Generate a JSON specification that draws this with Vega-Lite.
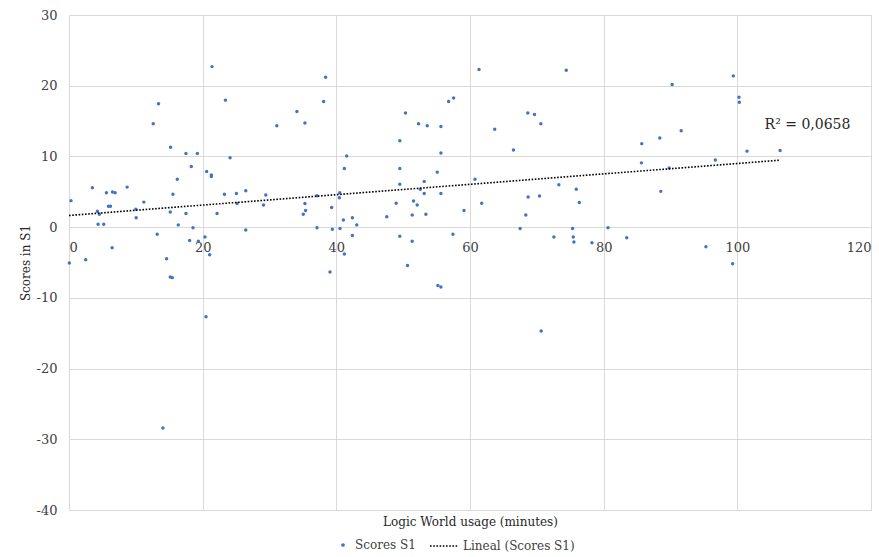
{
  "$schema": "https://vega.github.io/schema/vega-lite/v6.json",
  "width": 802,
  "height": 495,
  "autosize": {"type": "none"},
  "padding": {"left": 69, "top": 15, "right": 8, "bottom": 47},
  "background": "white",
  "config": {
    "font": "DejaVu Serif",
    "view": {"stroke": null},
    "axis": {
      "labelFont": "DejaVu Serif",
      "titleFont": "DejaVu Serif",
      "labelFontSize": 13,
      "titleFontSize": 12,
      "labelColor": "#404040",
      "titleColor": "#262626",
      "titleFontWeight": "normal",
      "gridColor": "#d9d9d9",
      "gridWidth": 1
    },
    "legend": {
      "labelFont": "DejaVu Serif",
      "labelFontSize": 12,
      "labelColor": "#404040"
    }
  },
  "datasets": {
    "scores": [
      {"usage": 21.4, "score": 22.7}, {"usage": 38.4, "score": 21.2}, {"usage": 23.4, "score": 17.96},
      {"usage": 13.4, "score": 17.45}, {"usage": 38.1, "score": 17.76}, {"usage": 34.1, "score": 16.35},
      {"usage": 35.3, "score": 14.73}, {"usage": 12.6, "score": 14.63}, {"usage": 31.1, "score": 14.33},
      {"usage": 15.2, "score": 11.3}, {"usage": 17.5, "score": 10.4}, {"usage": 19.2, "score": 10.4},
      {"usage": 24.1, "score": 9.8}, {"usage": 18.3, "score": 8.58}, {"usage": 20.6, "score": 7.88},
      {"usage": 21.3, "score": 7.38}, {"usage": 21.3, "score": 7.17}, {"usage": 16.2, "score": 6.77},
      {"usage": 3.5, "score": 5.56}, {"usage": 8.7, "score": 5.66}, {"usage": 0.3, "score": 3.75},
      {"usage": 5.6, "score": 4.86}, {"usage": 6.5, "score": 4.96}, {"usage": 6.9, "score": 4.86},
      {"usage": 5.9, "score": 2.94}, {"usage": 6.2, "score": 2.94}, {"usage": 11.2, "score": 3.54},
      {"usage": 4.25, "score": 2.24}, {"usage": 4.55, "score": 1.83}, {"usage": 10.0, "score": 2.54},
      {"usage": 10.05, "score": 1.33}, {"usage": 4.35, "score": 0.42}, {"usage": 5.2, "score": 0.42},
      {"usage": 15.55, "score": 4.65}, {"usage": 15.15, "score": 2.13}, {"usage": 17.5, "score": 1.93},
      {"usage": 16.35, "score": 0.32}, {"usage": 18.55, "score": -0.08}, {"usage": 13.2, "score": -0.99},
      {"usage": 18.05, "score": -1.9}, {"usage": 19.35, "score": -2.0}, {"usage": 20.35, "score": -1.39},
      {"usage": 6.45, "score": -2.9}, {"usage": 23.25, "score": 4.65}, {"usage": 25.05, "score": 4.75},
      {"usage": 26.45, "score": 5.16}, {"usage": 25.15, "score": 3.34}, {"usage": 22.15, "score": 1.93},
      {"usage": 26.45, "score": -0.39}, {"usage": 29.45, "score": 4.55}, {"usage": 29.1, "score": 3.14},
      {"usage": 35.3, "score": 3.34}, {"usage": 35.4, "score": 2.34}, {"usage": 35.05, "score": 1.83},
      {"usage": 37.1, "score": 4.45}, {"usage": 37.1, "score": -0.08}, {"usage": 39.3, "score": 2.79},
      {"usage": 39.4, "score": -0.29}, {"usage": 0.05, "score": -5.07}, {"usage": 2.5, "score": -4.62},
      {"usage": 14.6, "score": -4.47}, {"usage": 15.15, "score": -7.04}, {"usage": 15.45, "score": -7.14},
      {"usage": 21.05, "score": -3.91}, {"usage": 39.05, "score": -6.33}, {"usage": 20.5, "score": -12.68},
      {"usage": 14.05, "score": -28.41}, {"usage": 61.35, "score": 22.3}, {"usage": 74.4, "score": 22.2},
      {"usage": 57.55, "score": 18.26}, {"usage": 56.8, "score": 17.76}, {"usage": 50.35, "score": 16.14},
      {"usage": 68.65, "score": 16.14}, {"usage": 69.65, "score": 15.94}, {"usage": 52.3, "score": 14.63},
      {"usage": 53.6, "score": 14.33}, {"usage": 55.65, "score": 14.23}, {"usage": 70.6, "score": 14.63},
      {"usage": 63.7, "score": 13.83}, {"usage": 49.5, "score": 12.21}, {"usage": 66.5, "score": 10.9},
      {"usage": 55.65, "score": 10.5}, {"usage": 41.55, "score": 10.05}, {"usage": 41.2, "score": 8.28},
      {"usage": 49.5, "score": 8.28}, {"usage": 55.1, "score": 7.78}, {"usage": 60.75, "score": 6.77},
      {"usage": 49.5, "score": 6.07}, {"usage": 53.15, "score": 6.47}, {"usage": 73.3, "score": 6.0},
      {"usage": 52.55, "score": 5.36}, {"usage": 75.9, "score": 5.36}, {"usage": 40.5, "score": 4.86},
      {"usage": 40.45, "score": 4.15}, {"usage": 53.15, "score": 4.75}, {"usage": 55.65, "score": 4.75},
      {"usage": 68.7, "score": 4.25}, {"usage": 70.4, "score": 4.4}, {"usage": 48.95, "score": 3.39},
      {"usage": 51.55, "score": 3.7}, {"usage": 52.1, "score": 3.14}, {"usage": 61.75, "score": 3.39},
      {"usage": 76.35, "score": 3.5}, {"usage": 59.1, "score": 2.34}, {"usage": 47.55, "score": 1.48},
      {"usage": 51.35, "score": 1.73}, {"usage": 53.4, "score": 1.83}, {"usage": 68.35, "score": 1.73},
      {"usage": 41.05, "score": 1.02}, {"usage": 42.4, "score": 1.33}, {"usage": 43.05, "score": 0.32},
      {"usage": 40.55, "score": -0.18}, {"usage": 67.5, "score": -0.18}, {"usage": 75.35, "score": -0.18},
      {"usage": 42.4, "score": -1.19}, {"usage": 49.5, "score": -1.29}, {"usage": 57.45, "score": -0.99},
      {"usage": 51.35, "score": -2.0}, {"usage": 72.55, "score": -1.39}, {"usage": 75.45, "score": -1.39},
      {"usage": 75.55, "score": -2.1}, {"usage": 78.25, "score": -2.2}, {"usage": 41.2, "score": -3.81},
      {"usage": 50.65, "score": -5.43}, {"usage": 55.2, "score": -8.25}, {"usage": 55.65, "score": -8.45},
      {"usage": 70.65, "score": -14.7}, {"usage": 99.4, "score": 21.39}, {"usage": 90.25, "score": 20.18},
      {"usage": 100.25, "score": 18.36}, {"usage": 100.3, "score": 17.66}, {"usage": 91.6, "score": 13.63},
      {"usage": 88.4, "score": 12.62}, {"usage": 85.7, "score": 11.81}, {"usage": 101.45, "score": 10.75},
      {"usage": 106.4, "score": 10.85}, {"usage": 96.7, "score": 9.49}, {"usage": 85.65, "score": 9.09},
      {"usage": 89.8, "score": 8.38}, {"usage": 88.55, "score": 5.06}, {"usage": 80.65, "score": -0.08},
      {"usage": 83.45, "score": -1.5}, {"usage": 95.3, "score": -2.76}, {"usage": 99.3, "score": -5.18}
    ],
    "trend": [
      {"usage": 0, "score": 1.65},
      {"usage": 106.4, "score": 9.47}
    ],
    "note": [
      {"usage": 110.5, "score": 14.4, "label": "R² = 0,0658"}
    ]
  },
  "layer": [
    {
      "data": {"name": "scores"},
      "mark": {"type": "circle", "size": 12, "opacity": 1},
      "encoding": {
        "x": {
          "field": "usage", "type": "quantitative",
          "scale": {"domain": [0, 120], "nice": false, "zero": false},
          "axis": {"orient": "bottom", "values": [0, 20, 40, 60, 80, 100, 120], "grid": true, "labels": false, "ticks": false, "domain": false, "title": "Logic World usage (minutes)", "titlePadding": 6}
        },
        "y": {
          "field": "score", "type": "quantitative",
          "scale": {"domain": [-40, 30], "nice": false},
          "axis": {"values": [-40, -30, -20, -10, 0, 10, 20, 30], "labelExpr": "'' + datum.value", "grid": true, "ticks": false, "domain": false, "labelPadding": 12, "title": "Scores in S1", "titlePadding": 4}
        },
        "color": {
          "datum": "Scores S1", "type": "nominal",
          "scale": {"range": ["#4472C4"]},
          "legend": {"orient": "none", "legendX": 268, "legendY": 524, "title": null, "symbolType": "circle", "symbolSize": 14, "labelOffset": 6}
        }
      }
    },
    {
      "data": {"name": "trend"},
      "mark": {"type": "line", "color": "black", "strokeWidth": 1.6},
      "encoding": {
        "x": {
          "field": "usage", "type": "quantitative",
          "axis": {"orient": "bottom", "offset": -282.86, "values": [0, 20, 40, 60, 80, 100, 120], "grid": false, "domain": false, "ticks": false, "labels": true, "title": null, "labelPadding": 14}
        },
        "y": {"field": "score", "type": "quantitative"},
        "strokeDash": {
          "datum": "Lineal (Scores S1)", "type": "nominal",
          "scale": {"range": [[1.6, 1.6]]},
          "legend": {"orient": "none", "legendX": 360, "legendY": 516, "title": null, "symbolType": "stroke", "symbolStrokeColor": "black", "symbolStrokeWidth": 1.6, "symbolSize": 784, "labelOffset": 4}
        }
      }
    },
    {
      "data": {"name": "note"},
      "mark": {"type": "text", "fontSize": 14, "font": "DejaVu Serif", "color": "#262626"},
      "encoding": {
        "x": {"field": "usage", "type": "quantitative", "axis": null},
        "y": {"field": "score", "type": "quantitative"},
        "text": {"field": "label"}
      }
    }
  ],
  "resolve": {"axis": {"x": "independent"}}
}
